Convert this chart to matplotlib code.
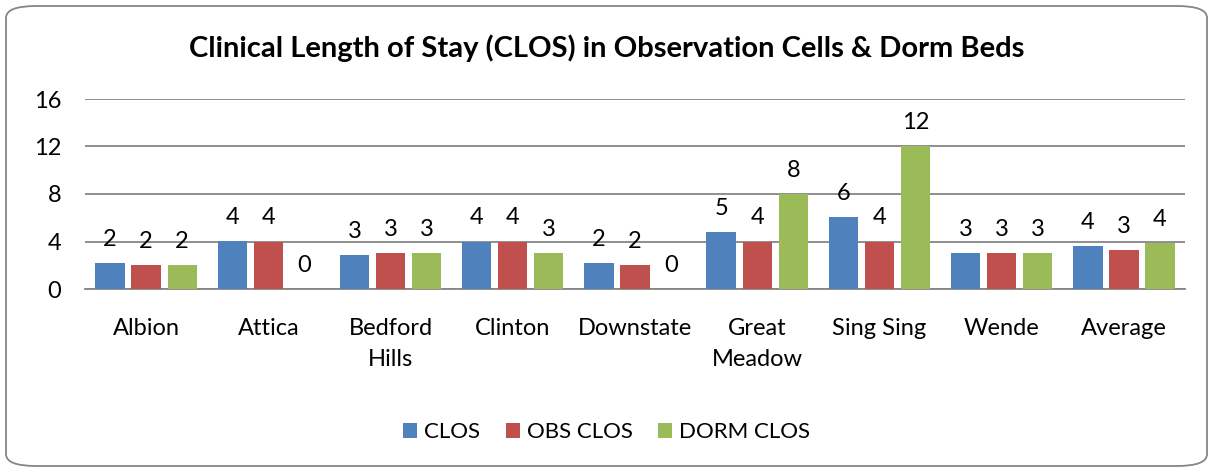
import numpy as np
import matplotlib.pyplot as plt
from matplotlib.patches import FancyBboxPatch

plt.rcParams['font.family'] = ['Lato', 'DejaVu Sans']

categories = ["Albion", "Attica", "Bedford\nHills", "Clinton", "Downstate",
              "Great\nMeadow", "Sing Sing", "Wende", "Average"]
clos = [2.22, 4.02, 2.86, 4.0, 2.16, 4.76, 6.08, 3.0, 3.65]
obs_clos = [2.0, 4.0, 3.0, 4.0, 2.0, 4.0, 4.0, 3.0, 3.25]
dorm_clos = [2.0, 0.0, 3.0, 3.0, 0.0, 8.0, 12.0, 3.0, 3.84]
series = [("CLOS", clos, "#4F81BD"),
          ("OBS CLOS", obs_clos, "#C0504D"),
          ("DORM CLOS", dorm_clos, "#9BBB59")]

fig = plt.figure(figsize=(12.13, 4.72), dpi=100)
ax = fig.add_axes([85 / 1213, 1 - 289 / 472, 1100 / 1213, 190 / 472])

x = np.arange(len(categories))
w = 0.24
step = 0.295
for i, (name, vals, col) in enumerate(series):
    pos = x + (i - 1) * step
    ax.bar(pos, vals, w, color=col, label=name, zorder=3)
    for p, v in zip(pos, vals):
        ax.text(p, v + 1.1, "%d" % round(v), ha="center", va="bottom",
                fontsize=17, color="black")

ax.set_xlim(-0.5, len(categories) - 0.5)
ax.set_ylim(0, 16)
ax.set_yticks([0, 4, 8, 12, 16])
ax.yaxis.grid(True, color="#868686", linewidth=1.3, zorder=0)
ax.set_axisbelow(True)
for s in ["top", "right", "left"]:
    ax.spines[s].set_visible(False)
ax.spines["bottom"].set_color("#868686")
ax.spines["bottom"].set_linewidth(1.3)
ax.tick_params(axis="y", length=0, labelsize=17, pad=17)
ax.tick_params(axis="x", length=0, labelsize=17, pad=21)
ax.set_xticks(x)
ax.set_xticklabels(categories, linespacing=1.6, va="top")

fig.text(0.5, 1 - 48 / 472, "Clinical Length of Stay (CLOS) in Observation Cells & Dorm Beds",
         ha="center", va="center", fontsize=21, fontweight="bold")

fig.legend(loc="center", bbox_to_anchor=(0.5, 1 - 432 / 472), ncol=3, frameon=False,
           fontsize=16, handlelength=0.65, handleheight=0.65, handletextpad=0.3,
           columnspacing=1.15)

border = FancyBboxPatch((6 / 1213, 6 / 472), 1201 / 1213, 460 / 472,
                        boxstyle="round,pad=0,rounding_size=0.025",
                        transform=fig.transFigure, fill=False,
                        edgecolor="#868686", linewidth=1.3)
fig.patches.append(border)

fig.savefig("out.png", dpi=100)
